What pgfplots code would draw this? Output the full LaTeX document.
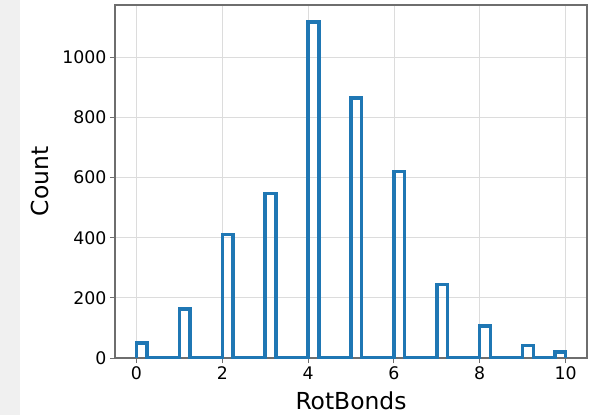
\documentclass[border=0pt]{standalone}
\usepackage{pgfplots}
\pgfplotsset{compat=1.18}
\usepackage{fontspec}
\setmainfont{DejaVu Sans}
\definecolor{mplblue}{HTML}{1F77B4}
\definecolor{strip}{HTML}{F0F0F0}
\definecolor{gridc}{HTML}{DCDCDC}
\definecolor{spine}{HTML}{6E6E6E}
\begin{document}
\begin{tikzpicture}
\useasboundingbox (-115bp,-57bp) rectangle (488bp,358bp);
\fill[strip] (-115bp,-57bp) rectangle (-95bp,358bp);
\begin{axis}[
  at={(0,0)}, anchor=south west,
  scale only axis,
  width=472bp, height=353bp,
  xmin=-0.5, xmax=10.5,
  ymin=0, ymax=1174,
  xtick={0,2,4,6,8,10},
  ytick={0,200,400,600,800,1000},
  grid=major,
  major grid style={gridc, line width=0.8bp},
  axis line style={spine, line width=1.1bp},
  tick style={spine, line width=1bp},
  major tick length=5bp,
  tick align=outside,
  xtick pos=bottom, ytick pos=left,
  /pgf/number format/assume math mode=true,
  /pgf/number format/1000 sep={},
  tick label style={font=\fontsize{17.4}{20}\selectfont, black},
  xlabel={RotBonds}, ylabel={Count},
  label style={font=\fontsize{23.5}{26}\selectfont, black},
  xlabel style={at={(axis description cs:0.5,0)}, anchor=center, yshift=-43bp},
  ylabel style={at={(axis description cs:0,0.5)}, anchor=center, yshift=75bp},
]
\addplot[mplblue, line width=3.4bp, line join=miter, mark=none] coordinates {
(0,0)(0,50)(0.25,50)(0.25,0)
(1,0)(1,163)(1.25,163)(1.25,0)
(2,0)(2,410)(2.25,410)(2.25,0)
(3,0)(3,547)(3.25,547)(3.25,0)
(4,0)(4,1118)(4.25,1118)(4.25,0)
(5,0)(5,865)(5.25,865)(5.25,0)
(6,0)(6,620)(6.25,620)(6.25,0)
(7,0)(7,245)(7.25,245)(7.25,0)
(8,0)(8,107)(8.25,107)(8.25,0)
(9,0)(9,42)(9.25,42)(9.25,0)
(9.75,0)(9.75,20)(10,20)(10,0)
};
\end{axis}
\end{tikzpicture}
\end{document}
